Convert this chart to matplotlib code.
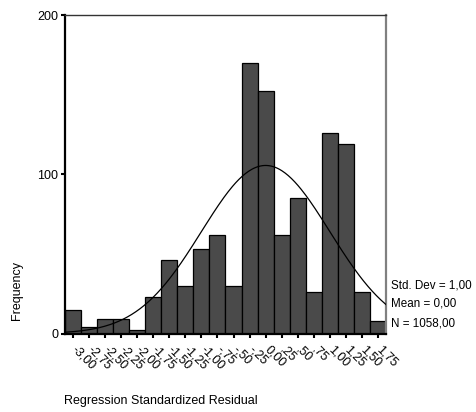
import numpy as np
import matplotlib
matplotlib.use("Agg")
import matplotlib.pyplot as plt
import matplotlib.transforms as mtransforms

plt.rcParams['font.family'] = ['Liberation Sans', 'DejaVu Sans']

bin_centers = [-3.00, -2.75, -2.50, -2.25, -2.00, -1.75, -1.50, -1.25, -1.00, -0.75,
               -0.50, -0.25, 0.00, 0.25, 0.50, 0.75, 1.00, 1.25, 1.50, 1.75]
tick_labels = ["-3,00", "-2,75", "-2,50", "-2,25", "-2,00", "-1,75", "-1,50", "-1,25",
               "-1,00", "-,75", "-,50", "-,25", "0,00", ",25", ",50", ",75",
               "1,00", "1,25", "1,50", "1,75"]
counts = [15, 4, 9, 9, 2, 23, 46, 30, 53, 62, 30, 170, 152, 62, 85, 26, 126, 119, 26, 8]
std_dev = 1.00
mean = 0.00
n_total = 1058
bin_width = 0.25
stats_labels = ["Std. Dev = 1,00", "Mean = 0,00", "N = 1058,00"]

fig = plt.figure(figsize=(4.77, 4.12), dpi=100)
ax = fig.add_axes([65/477, 1-333.5/412, (386-65)/477, (333.5-15)/412])

ax.bar(bin_centers, counts, width=bin_width, color='#4a4a4a', edgecolor='black',
       linewidth=0.9, zorder=2)

xs = np.linspace(bin_centers[0] - bin_width/2, bin_centers[-1] + bin_width/2, 300)
ys = n_total * bin_width / (std_dev * np.sqrt(2*np.pi)) * np.exp(-0.5*((xs-mean)/std_dev)**2)
ax.plot(xs, ys, color='black', linewidth=0.9, zorder=3)

ax.set_xlim(bin_centers[0] - bin_width/2, bin_centers[-1] + bin_width/2)
ax.set_ylim(0, 200)
ax.set_yticks([0, 100, 200])
ax.set_yticklabels(["0", "100", "200"], fontsize=9)
ax.set_xticks(bin_centers)
ax.set_xticklabels([])
offset = mtransforms.ScaledTranslation(5/100, -10/100, fig.dpi_scale_trans)
trans = ax.get_xaxis_transform() + offset
for xc, lab in zip(bin_centers, tick_labels):
    ax.text(xc, 0, lab, transform=trans, fontsize=9, rotation=-45, ha='left', va='top',
            rotation_mode='anchor', clip_on=False)
ax.tick_params(axis='x', length=3, width=1.5, pad=6, direction='out')
ax.tick_params(axis='y', length=3, width=1.5, pad=2, direction='out')

for side in ['left', 'bottom']:
    ax.spines[side].set_linewidth(1.6)
    ax.spines[side].set_color('black')
ax.spines['top'].set_linewidth(1.0)
ax.spines['top'].set_color('#333333')
ax.spines['right'].set_linewidth(1.6)
ax.spines['right'].set_color('#808080')

fig.text(17/477, 1-290/412, "Frequency", rotation=90, ha='center', va='center', fontsize=9)
fig.text(64/477, 1-401/412, "Regression Standardized Residual", ha='left', va='center', fontsize=9)

for i, s in enumerate(stats_labels):
    fig.text(391/477, 1-(285 + 19*i)/412, s, ha='left', va='center', fontsize=8.4)

fig.savefig("out.png", dpi=100)
